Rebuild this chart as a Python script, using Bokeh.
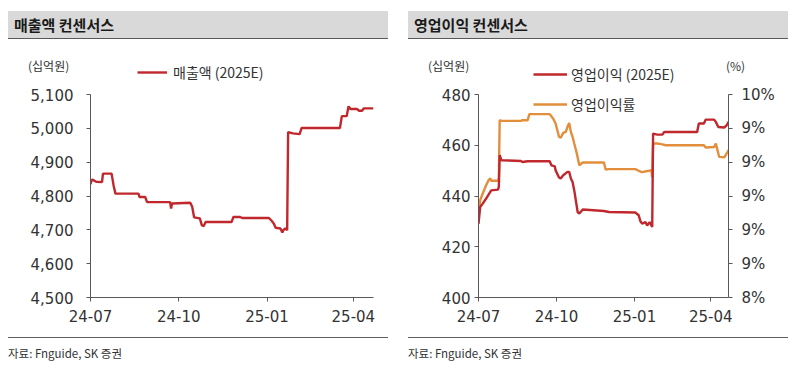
import pandas as pd
from bokeh.plotting import figure
from bokeh.models import (ColumnDataSource, Range1d, LinearAxis, FixedTicker, DatetimeTickFormatter,
                          NumeralTickFormatter, CustomJSTickFormatter, Legend, LegendItem, Div)
from bokeh.layouts import row, column
from bokeh.embed import file_html
from bokeh.resources import INLINE

# ---------------- data ----------------
rev_dates = ["2024-07-01", "2024-07-02", "2024-07-03", "2024-07-05", "2024-07-07", "2024-07-13",
             "2024-07-14", "2024-07-23", "2024-07-25", "2024-07-27", "2024-08-20", "2024-08-21",
             "2024-08-27", "2024-08-29", "2024-09-22", "2024-09-23", "2024-09-24", "2024-10-13",
             "2024-10-15", "2024-10-17", "2024-10-23", "2024-10-25", "2024-10-27", "2024-10-29",
             "2024-11-25", "2024-11-27", "2024-12-04", "2024-12-06", "2025-01-03", "2025-01-06",
             "2025-01-08", "2025-01-10", "2025-01-15", "2025-01-17", "2025-01-18", "2025-01-20",
             "2025-01-22", "2025-01-23", "2025-01-28", "2025-02-04", "2025-02-06", "2025-03-18",
             "2025-03-20", "2025-03-25", "2025-03-27", "2025-03-29", "2025-04-05", "2025-04-07",
             "2025-04-10", "2025-04-12", "2025-04-22"]
rev_values = [4835, 4845, 4849, 4845, 4842, 4841,
              4866, 4866, 4832, 4807, 4807, 4797,
              4797, 4782, 4782, 4763, 4778, 4780,
              4768, 4737, 4734, 4714, 4711, 4723,
              4723, 4738, 4738, 4735, 4735, 4726,
              4719, 4706, 4704, 4692, 4699, 4704,
              4699, 4989, 4985, 4983, 5001, 5001,
              5036, 5036, 5065, 5057, 5057, 5052,
              5052, 5059, 5059]

op_dates = ["2024-07-01", "2024-07-03", "2024-07-06", "2024-07-10", "2024-07-16", "2024-07-24",
            "2024-07-25", "2024-07-26", "2024-07-28", "2024-08-20", "2024-08-22", "2024-08-28",
            "2024-09-23", "2024-09-25", "2024-09-29", "2024-09-30", "2024-10-04", "2024-10-06",
            "2024-10-09", "2024-10-14", "2024-10-16", "2024-10-18", "2024-10-20", "2024-10-22",
            "2024-10-26", "2024-10-28", "2024-11-01", "2024-11-26", "2024-12-02", "2025-01-02",
            "2025-01-06", "2025-01-08", "2025-01-10", "2025-01-14", "2025-01-16", "2025-01-19",
            "2025-01-20", "2025-01-22", "2025-01-23", "2025-01-28", "2025-02-03", "2025-02-05",
            "2025-03-16", "2025-03-18", "2025-03-24", "2025-03-26", "2025-04-05", "2025-04-07",
            "2025-04-10", "2025-04-17", "2025-04-20", "2025-04-22"]
op_values = [429.0, 435.7, 437.0, 439.0, 442.2, 442.5,
             443.6, 456.1, 454.1, 453.8, 453.4, 453.7,
             453.7, 452.1, 451.7, 450.1, 447.3, 446.9,
             448.2, 449.5, 449.5, 446.9, 445.5, 442.2,
             433.7, 433.1, 434.7, 434.1, 433.7, 433.5,
             432.4, 430.1, 429.1, 429.7, 428.4, 429.7,
             429.1, 427.8, 464.6, 464.2, 464.2, 465.2,
             465.2, 468.6, 468.6, 470.1, 470.1, 469.2,
             467.2, 467.0, 467.9, 469.2]

margin_dates = ["2024-07-01", "2024-07-03", "2024-07-06", "2024-07-10", "2024-07-13", "2024-07-15",
                "2024-07-16", "2024-07-24", "2024-07-25", "2024-07-26", "2024-07-28", "2024-08-20",
                "2024-08-22", "2024-08-28", "2024-08-30", "2024-09-23", "2024-09-27", "2024-09-30",
                "2024-10-04", "2024-10-06", "2024-10-09", "2024-10-12", "2024-10-14", "2024-10-16",
                "2024-10-18", "2024-10-20", "2024-10-22", "2024-10-25", "2024-10-28", "2024-11-01",
                "2024-11-26", "2024-11-28", "2024-12-02", "2025-01-02", "2025-01-06", "2025-01-10",
                "2025-01-18", "2025-01-21", "2025-01-22", "2025-01-23", "2025-01-28", "2025-02-03",
                "2025-02-07", "2025-03-24", "2025-03-26", "2025-04-05", "2025-04-07", "2025-04-09",
                "2025-04-11", "2025-04-17", "2025-04-21", "2025-04-22"]
margin_values = [8.877, 8.975, 9.015, 9.064, 9.094, 9.104,
                 9.090, 9.090, 9.104, 9.448, 9.444, 9.444,
                 9.448, 9.448, 9.484, 9.484, 9.458, 9.429,
                 9.350, 9.344, 9.373, 9.379, 9.409, 9.432,
                 9.379, 9.350, 9.310, 9.251, 9.182, 9.198,
                 9.198, 9.157, 9.159, 9.159, 9.149, 9.141,
                 9.149, 9.153, 9.110, 9.310, 9.310, 9.305,
                 9.300, 9.300, 9.287, 9.290, 9.310, 9.271,
                 9.231, 9.228, 9.261, 9.271]

x_start, x_end = "2024-07-01", "2025-04-22"
x_tick_dates = ["2024-07-01", "2024-10-01", "2025-01-01", "2025-04-01"]
rev_ticks = [4500, 4600, 4700, 4800, 4900, 5000, 5100]
op_ticks = [400, 420, 440, 460, 480]
margin_ticks = [8.4, 8.6, 8.8, 9.0, 9.2, 9.4, 9.6]

left_title = "매출액 컨센서스"
right_title = "영업이익 컨센서스"
rev_label = "매출액 (2025E)"
op_label = "영업이익 (2025E)"
margin_label = "영업이익률"
unit_krw = "(십억원)"
unit_pct = "(%)"
source_text = "자료: Fnguide, SK 증권"

# ---------------- style ----------------
KR = "Noto Sans CJK KR"
NUM = "DejaVu Sans"
RED = "#C0282D"
ORANGE = "#E28E3C"
AXIS = "#595959"
TXT = "#333333"
PANEL_W = 380
DATA_H = 203      # pixel height between the lowest and highest y tick
TOP_PAD = 34      # frame space above the top tick (holds the legend)

x_ticks_ms = [pd.Timestamp(d).timestamp() * 1000 for d in x_tick_dates]

SPAN = ("position:absolute;white-space:nowrap;font-family:'Noto Sans CJK KR';"
        "font-size:12px;line-height:16px;color:#333333;")


def header(title, units):
    # units: list of (left px, text) placed in the strip under the title bar
    unit_html = "".join(
        '<div style="%sleft:%dpx;top:50px;">%s</div>' % (SPAN, x, t) for x, t in units)
    html = (
        '<div style="position:relative;width:380px;height:70px;">'
        '<div style="position:absolute;left:0;top:3px;width:380px;height:28px;'
        'background:#D9D9D9;border-bottom:1.6px solid #595959;"></div>'
        '<div style="position:absolute;left:6px;top:3px;height:28px;line-height:28px;'
        "font-family:'Noto Sans CJK KR';font-weight:bold;font-size:15px;color:#1a1a1a;\">"
        + title + '</div>' + unit_html + '</div>')
    return Div(text=html, width=PANEL_W, height=70, margin=(0, 0, -37, 0))


def footer():
    html = (
        '<div style="position:relative;width:380px;height:39px;">'
        '<div style="position:absolute;left:0;top:4.5px;width:380px;height:0;'
        'border-top:1.2px solid #5f5f5f;"></div>'
        '<div style="position:absolute;left:0;top:13px;line-height:17px;white-space:nowrap;'
        "font-family:'Noto Sans CJK KR';font-size:11.5px;color:#333333;\">"
        + source_text + '</div></div>')
    return Div(text=html, width=PANEL_W, height=39, margin=0)


def style_axis(ax, standoff):
    ax.axis_line_color = AXIS
    ax.axis_line_width = 1
    ax.major_tick_line_color = AXIS
    ax.major_tick_out = 4
    ax.major_tick_in = 0
    ax.minor_tick_line_color = None
    ax.major_label_text_font = NUM
    ax.major_label_text_font_size = "15px"
    ax.major_label_text_color = TXT
    ax.major_label_standoff = standoff


def padded(lo, hi):
    return Range1d(lo, hi + (hi - lo) * TOP_PAD / DATA_H)


def base_chart(yr, bl, br):
    p = figure(width=PANEL_W, height=291, x_axis_type="datetime",
               x_range=Range1d(pd.Timestamp(x_start), pd.Timestamp(x_end)), y_range=yr,
               toolbar_location=None, output_backend="svg", min_border_left=bl,
               min_border_right=br, min_border_top=19, min_border_bottom=35,
               outline_line_color=None, margin=0, border_fill_color=None,
               background_fill_color=None)
    p.grid.visible = False
    p.xaxis.ticker = FixedTicker(ticks=x_ticks_ms)
    p.xaxis.formatter = DatetimeTickFormatter(days="%y-%m", months="%y-%m", years="%y-%m",
                                              hours="%y-%m", minutes="%y-%m")
    style_axis(p.xaxis[0], 8)
    return p


def make_legend(items, loc, gw, stand):
    return Legend(items=items, location=loc, orientation="vertical", label_text_font=KR,
                  label_text_font_size="14px", label_text_color=TXT, glyph_width=gw,
                  glyph_height=20, label_height=20, label_standoff=stand, padding=0,
                  margin=0, spacing=10, border_line_color=None, background_fill_alpha=0)


# ---------------- left chart ----------------
src_rev = ColumnDataSource(dict(x=pd.to_datetime(rev_dates), y=rev_values))
p1 = base_chart(padded(rev_ticks[0], rev_ticks[-1]), 82, 15)
p1.yaxis.ticker = FixedTicker(ticks=rev_ticks)
p1.yaxis.formatter = NumeralTickFormatter(format="0,0")
p1.yaxis.bounds = (rev_ticks[0], rev_ticks[-1])
style_axis(p1.yaxis[0], 13)
r_rev = p1.line("x", "y", source=src_rev, line_color=RED, line_width=2.4)
p1.add_layout(make_legend([LegendItem(label=rev_label, renderers=[r_rev])], (47, 215), 30, 6))

# ---------------- right chart ----------------
src_op = ColumnDataSource(dict(x=pd.to_datetime(op_dates), y=op_values))
src_m = ColumnDataSource(dict(x=pd.to_datetime(margin_dates), y=margin_values))
p2 = base_chart(padded(op_ticks[0], op_ticks[-1]), 70, 60)
p2.yaxis.ticker = FixedTicker(ticks=op_ticks)
p2.yaxis.bounds = (op_ticks[0], op_ticks[-1])
style_axis(p2.yaxis[0], 4)
p2.extra_y_ranges = {"m": padded(margin_ticks[0], margin_ticks[-1])}
ax_r = LinearAxis(y_range_name="m", ticker=FixedTicker(ticks=margin_ticks),
                  formatter=CustomJSTickFormatter(code="return Math.round(tick) + '%';"),
                  bounds=(margin_ticks[0], margin_ticks[-1]))
style_axis(ax_r, 9)
p2.add_layout(ax_r, "right")
r_m = p2.line("x", "y", source=src_m, y_range_name="m", line_color=ORANGE, line_width=2.4)
r_op = p2.line("x", "y", source=src_op, line_color=RED, line_width=2.4)
p2.add_layout(make_legend([LegendItem(label=op_label, renderers=[r_op]),
                           LegendItem(label=margin_label, renderers=[r_m])], (55, 183), 34, 4))

left = column(header(left_title, [(20, unit_krw)]), p1, footer(), spacing=0)
right = column(header(right_title, [(20, unit_krw), (318, unit_pct)]), p2, footer(), spacing=0)
layout = row(left, right, spacing=20, margin=(8, 0, 0, 8))

open("out.html", "w").write(file_html(layout, INLINE))
